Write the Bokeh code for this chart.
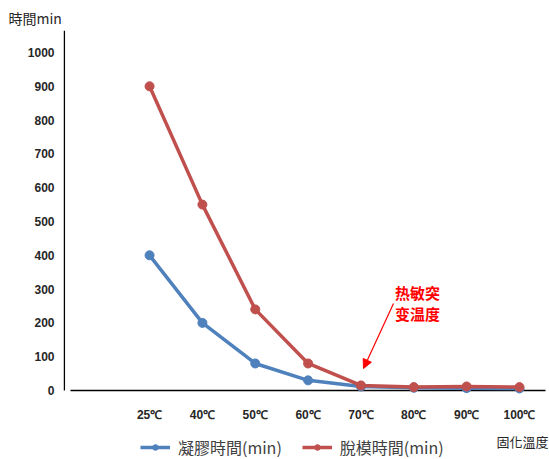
from bokeh.plotting import figure
from bokeh.models import (FixedTicker, Label, Arrow, NormalHead, Legend, LegendItem,
                          Range1d, Title)
from bokeh.core.properties import value
from bokeh.embed import file_html
from bokeh.resources import INLINE

categories = ["25℃", "40℃", "50℃", "60℃", "70℃", "80℃", "90℃", "100℃"]
gel_time = [400, 200, 80, 30, 12, 8, 7, 6]
demold_time = [900, 550, 240, 80, 15, 10, 12, 10]
y_ticks = [0, 100, 200, 300, 400, 500, 600, 700, 800, 900, 1000]

W, H = 549, 459
BL, BR, BT, BB = 63, 1, 30, 0
SLOT = 52.8            # px per category
PX_PER_UNIT = 0.338    # px per minute
ZERO_PX = 390          # screen row of value 0
X0 = -(149 - BL) / SLOT
X1 = 7 + (W - BR - 519) / SLOT
Y1 = (ZERO_PX - BT) / PX_PER_UNIT
Y0 = -(H - ZERO_PX) / PX_PER_UNIT
FW, FH = W - BL - BR, H - BT - BB


def fx(img_x):
    return X0 + (img_x - BL) / FW * (X1 - X0)


def fy(img_y):
    return Y0 + (H - BB - img_y) / FH * (Y1 - Y0)


xs = list(range(len(categories)))

p = figure(width=W, height=H, output_backend="svg", toolbar_location=None,
           x_range=Range1d(X0, X1), y_range=Range1d(Y0, Y1),
           x_axis_location=None,
           min_border_left=BL, min_border_right=BR, min_border_top=BT,
           min_border_bottom=BB)
p.outline_line_color = None
p.xgrid.grid_line_color = None
p.ygrid.grid_line_color = None

tick_font = "Liberation Sans"
cjk = "Noto Sans CJK TC"
txt = "#262626"

# y axis (labels only, line drawn separately so it stops at 0)
p.yaxis.ticker = FixedTicker(ticks=y_ticks)
p.yaxis.major_tick_line_color = None
p.yaxis.minor_tick_line_color = None
p.yaxis.major_tick_out = 0
p.yaxis.major_tick_in = 0
p.yaxis.axis_line_color = None
p.yaxis.major_label_text_font = tick_font
p.yaxis.major_label_text_font_style = "bold"
p.yaxis.major_label_text_font_size = "12px"
p.yaxis.major_label_text_color = txt
p.yaxis.major_label_standoff = 9

# axis lines
p.segment(x0=[fx(63.8)], y0=[0], x1=[fx(63.8)], y1=[Y1], line_color="black", line_width=1.5)
p.segment(x0=[fx(70)], y0=[0], x1=[fx(545)], y1=[0], line_color="black", line_width=1.5)

# category labels
p.text(x=xs, y=[0] * len(xs), text=categories, y_offset=24,
       text_font=value(tick_font), text_font_style="bold", text_font_size="12px",
       text_color=txt, text_align="center", text_baseline="middle")

blue = "#4F81BD"
red = "#C0504D"

l1 = p.line(xs, gel_time, line_color=blue, line_width=3.5)
s1 = p.scatter(xs, gel_time, marker="circle", size=9, fill_color=blue, line_color=blue)
l2 = p.line(xs, demold_time, line_color=red, line_width=3.5)
s2 = p.scatter(xs, demold_time, marker="circle", size=9, fill_color=red, line_color=red)

# y title
t_top = Title(text="時間min", align="left", offset=-55, standoff=6,
              text_font=cjk, text_font_size="14px", text_font_style="normal",
              text_color=txt)
p.add_layout(t_top, "above")

# x title
p.add_layout(Label(x=fx(548), y=fy(441), text="固化溫度", text_font=cjk,
                   text_font_size="13px", text_color=txt,
                   text_baseline="middle", text_align="right"))

legend = Legend(items=[LegendItem(label="凝膠時間(min)", renderers=[l1, s1]),
                       LegendItem(label="脫模時間(min)", renderers=[l2, s2])],
                location=(140 - BL, 0), orientation="horizontal")
legend.label_text_font = cjk
legend.label_text_font_size = "16px"
legend.label_text_color = "#404040"
legend.glyph_width = 30
legend.glyph_height = 14
legend.label_height = 14
legend.label_standoff = 8
legend.padding = 0
legend.margin = 0
legend.spacing = 20
legend.border_line_color = None
legend.background_fill_alpha = 0
p.add_layout(legend)

# annotation
p.add_layout(Label(x=fx(417), y=fy(292), text="热敏突", text_font=cjk, text_font_size="15px",
                   text_font_style="bold", text_color="#FF0000", text_baseline="middle",
                   text_align="center"))
p.add_layout(Label(x=fx(417), y=fy(313), text="变温度", text_font=cjk, text_font_size="15px",
                   text_font_style="bold", text_color="#FF0000", text_baseline="middle",
                   text_align="center"))
p.add_layout(Arrow(x_start=fx(393), y_start=fy(303), x_end=fx(363), y_end=fy(368),
                   line_color="#FF0000", line_width=1.2,
                   end=NormalHead(size=9, fill_color="#FF0000", line_color="#FF0000")))

open("out.html", "w").write(file_html(p, INLINE))
